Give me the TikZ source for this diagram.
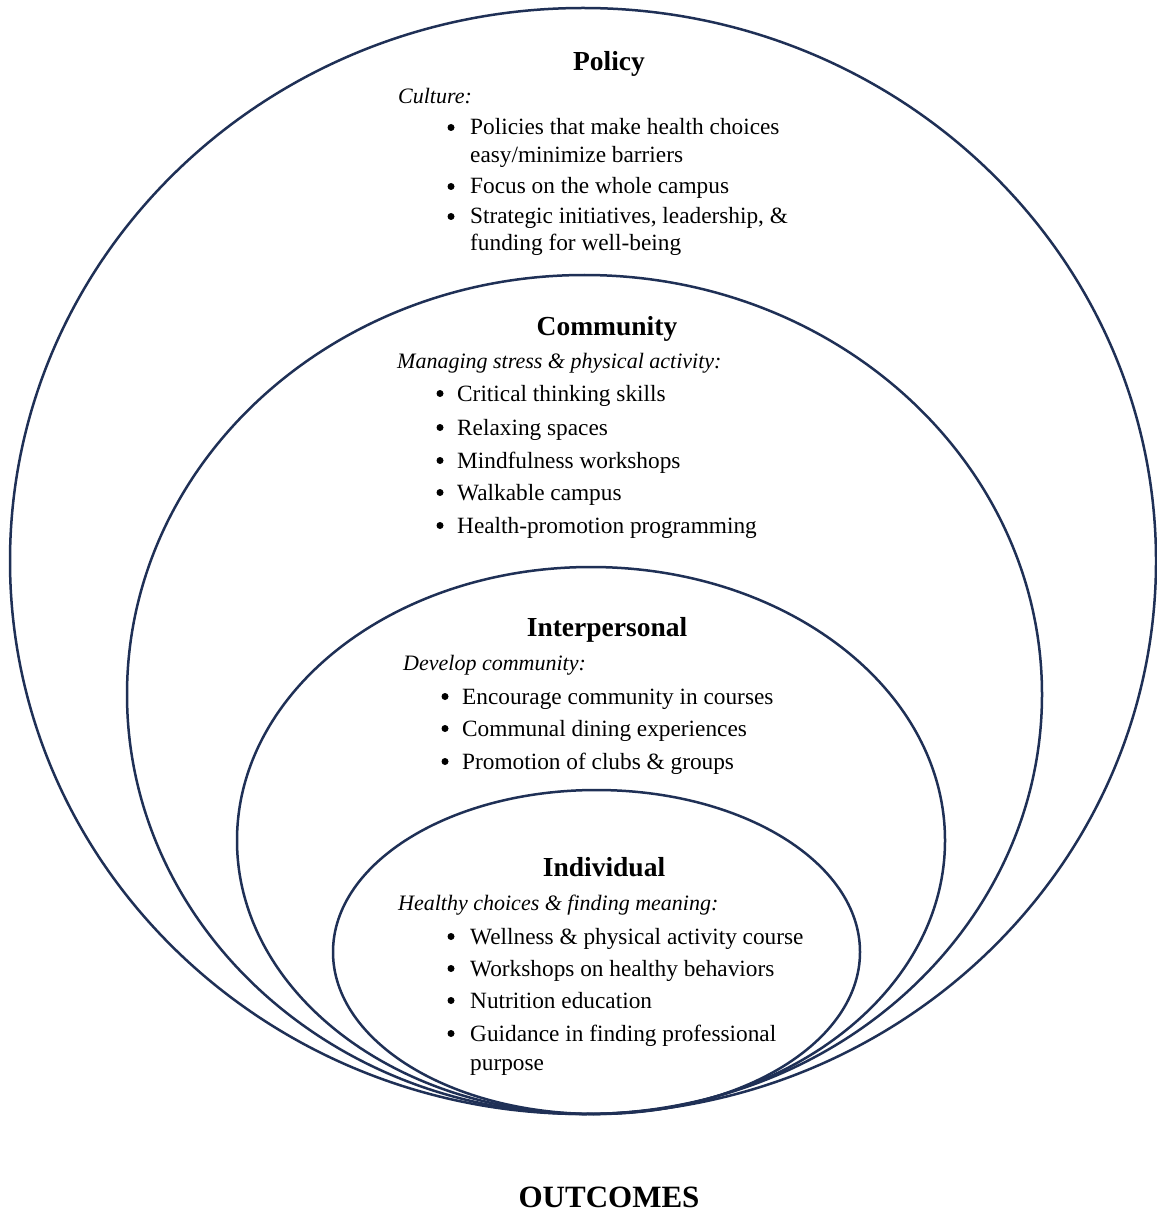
\documentclass[tikz,border=0pt]{standalone}
\usepackage{fontspec}
\setmainfont{Liberation Serif}
\begin{document}
\begin{tikzpicture}[x=1pt,y=-1pt,
  ring/.style={draw=navy,line width=2.5pt},
  head/.style={font=\fontsize{27.5}{30}\selectfont\bfseries,inner sep=0pt,anchor=base},
  sub/.style={font=\fontsize{22}{26}\selectfont\itshape,inner sep=0pt,anchor=base west},
  item/.style={font=\fontsize{23.3}{27}\selectfont,inner sep=0pt,anchor=base west},
  dot/.style={circle,fill=black,inner sep=0pt,minimum size=7pt,yshift=7.5pt}]
\definecolor{navy}{HTML}{1F3056}
\useasboundingbox (0,0) rectangle (1156,1214);
\fill[white] (0,0) rectangle (1156,1214);
% ellipses
\draw[ring] (583,561) ellipse [x radius=573, y radius=553];
\draw[ring] (584.5,694.5) ellipse [x radius=457.5, y radius=419.5];
\draw[ring] (591,840.5) ellipse [x radius=354, y radius=273.5];
\draw[ring] (596.5,952) ellipse [x radius=263.5, y radius=162];
% Policy
\node[head] (ph) at (609,71) {Policy};
\node[sub] (ps) at (398,104) {Culture:};
\node[dot] (pb1) at (451,135) {};
\node[item] (p1) at (470,135) {Policies that make health choices};
\node[item] (p1b) at (470,163) {easy/minimize barriers};
\node[dot] (pb2) at (451,194) {};
\node[item] (p2) at (470,194) {Focus on the whole campus};
\node[dot] (pb3) at (451,224) {};
\node[item] (p3) at (470,224) {Strategic initiatives, leadership, \&};
\node[item] (p3b) at (470,251) {funding for well-being};
% Community
\node[head] (ch) at (607,335) {Community};
\node[sub] (cs) at (397,368) {Managing stress \& physical activity:};
\node[dot] (cb1) at (440,401) {};
\node[item] (c1) at (457,401) {Critical thinking skills};
\node[dot] (cb2) at (440,435) {};
\node[item] (c2) at (457,435) {Relaxing spaces};
\node[dot] (cb3) at (440,468) {};
\node[item] (c3) at (457,468) {Mindfulness workshops};
\node[dot] (cb4) at (440,500) {};
\node[item] (c4) at (457,500) {Walkable campus};
\node[dot] (cb5) at (440,533) {};
\node[item] (c5) at (457,533) {Health-promotion programming};
% Interpersonal
\node[head] (ih) at (607,636) {Interpersonal};
\node[sub] (is) at (403,670) {Develop community:};
\node[dot] (ib1) at (445,704) {};
\node[item] (i1) at (462,704) {Encourage community in courses};
\node[dot] (ib2) at (445,736) {};
\node[item] (i2) at (462,736) {Communal dining experiences};
\node[dot] (ib3) at (445,769) {};
\node[item] (i3) at (462,769) {Promotion of clubs \& groups};
% Individual
\node[head] (dh) at (604,876) {Individual};
\node[sub] (ds) at (398,910) {Healthy choices \& finding meaning:};
\node[dot] (db1) at (451,944) {};
\node[item] (d1) at (470,944) {Wellness \& physical activity course};
\node[dot] (db2) at (451,976) {};
\node[item] (d2) at (470,976) {Workshops on healthy behaviors};
\node[dot] (db3) at (451,1008) {};
\node[item] (d3) at (470,1008) {Nutrition education};
\node[dot] (db4) at (451,1041) {};
\node[item] (d4) at (470,1041) {Guidance in finding professional};
\node[item] (d4b) at (470,1070) {purpose};
% Outcomes
\node[head,font=\fontsize{31}{34}\selectfont\bfseries] (out) at (609,1207) {OUTCOMES};
\end{tikzpicture}
\end{document}
